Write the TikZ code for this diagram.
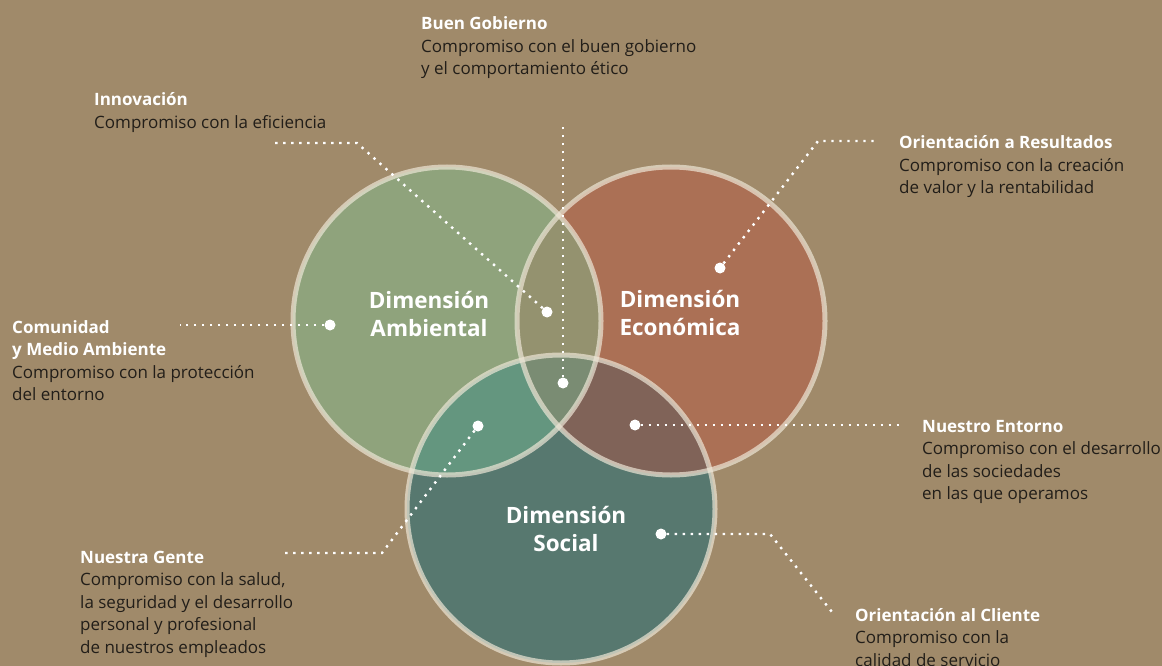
\documentclass[tikz,border=0pt]{standalone}
\usepackage{fontspec}
\setmainfont{Open Sans}
\usepackage{tikz}
\usetikzlibrary{positioning}

\definecolor{bgtan}{HTML}{A08A6A}
\definecolor{ambfill}{HTML}{8FA37C}
\definecolor{ecofill}{HTML}{AB7055}
\definecolor{socfill}{HTML}{57786F}
\definecolor{ambeco}{HTML}{94926F}
\definecolor{ambsoc}{HTML}{64967F}
\definecolor{ecosoc}{HTML}{806358}
\definecolor{allthree}{HTML}{7A8C73}
\definecolor{rimbeige}{HTML}{EDE6D6}
\definecolor{inkdark}{HTML}{221E19}

\newcommand{\ttl}[1]{\textcolor{white}{\bfseries #1}}
\newcommand{\blocktext}[1]{\begin{tabular}[t]{@{}l@{}}#1\end{tabular}}
\newcommand{\blockhead}[1]{\begin{tabular}[t]{@{}c@{}}#1\end{tabular}}

\begin{document}
\begin{tikzpicture}[x=1pt, y=-1pt,
  every dimension/.style={circle, minimum size=308pt, inner sep=0pt},
  rim/.style={draw=rimbeige, draw opacity=0.7, line width=5pt},
  pin/.style={circle, fill=white, minimum size=11pt, inner sep=0pt},
  leader/.style={white, line width=2.4pt, dash pattern=on 2.4pt off 5.6pt},
  caption/.style={anchor=base west, inner sep=0pt, text=inkdark,
    font=\fontsize{17}{22.5}\selectfont},
  heading/.style={anchor=base, inner sep=0pt, text=white,
    font=\bfseries\fontsize{22.5}{28.5}\selectfont}]

\fill[bgtan] (0,0) rectangle (1162,666);
\useasboundingbox (0,0) rectangle (1162,666);

\foreach \n/\x/\y in {amb/447/321, eco/671/321, soc/561/509}
  \node [every dimension/.try] (circle-\n) at (\x,\y) {};

\fill[ambfill] (circle-amb.center) circle (154);
\fill[ecofill] (circle-eco.center) circle (154);
\fill[socfill] (circle-soc.center) circle (154);

\begin{scope}
  \clip (circle-amb.center) circle (154);
  \fill[ambeco] (circle-eco.center) circle (154);
  \fill[ambsoc] (circle-soc.center) circle (154);
\end{scope}
\begin{scope}
  \clip (circle-eco.center) circle (154);
  \fill[ecosoc] (circle-soc.center) circle (154);
\end{scope}
\begin{scope}
  \clip (circle-amb.center) circle (154);
  \clip (circle-eco.center) circle (154);
  \fill[allthree] (circle-soc.center) circle (154);
\end{scope}

\foreach \n in {amb,eco,soc}
  \draw[rim] (circle-\n.center) circle (154);

\node [heading] (head-amb) at (429,308) {\blockhead{Dimensión\\Ambiental}};
\node [heading] (head-eco) at (680,307) {\blockhead{Dimensión\\Económica}};
\node [heading] (head-soc) at (566,523) {\blockhead{Dimensión\\Social}};

% pins
\foreach \n/\x/\y in {innov/547/312, gob/563/383, comu/330/325, result/720/268,
                      entorno/635/425, gente/478/426, cliente/661/534}
  \node [pin] (pin-\n) at (\x,\y) {};

% leader ends and bends
\coordinate (end-innov) at (275,143);
\coordinate (bend-innov) at (357,143);
\coordinate (end-gob) at (563,126);
\coordinate (end-comu) at (180,325);
\coordinate (bend-result) at (818,141);
\coordinate (end-result) at (876,141);
\coordinate (end-entorno) at (900,425);
\coordinate (bend-cliente) at (770,534);
\coordinate (end-cliente) at (832,612);
\coordinate (bend-gente) at (382,553);
\coordinate (end-gente) at (283,553);

\draw[leader] (pin-innov) -- (bend-innov) -- (end-innov);
\draw[leader] (pin-gob) -- (end-gob);
\draw[leader] (pin-comu) -- (end-comu);
\draw[leader] (pin-result) -- (bend-result) -- (end-result);
\draw[leader] (pin-entorno) -- (end-entorno);
\draw[leader] (pin-cliente) -- (bend-cliente) -- (end-cliente);
\draw[leader] (pin-gente) -- (bend-gente) -- (end-gente);

% captions
\node [caption] (text-gob) at (421,30)
  {\blocktext{\ttl{Buen Gobierno}\\Compromiso con el buen gobierno\\y el comportamiento ético}};
\node [caption] (text-innov) at (94,106)
  {\blocktext{\ttl{Innovación}\\Compromiso con la eficiencia}};
\node [caption] (text-result) at (899,149)
  {\blocktext{\ttl{Orientación a Resultados}\\Compromiso con la creación\\de valor y la rentabilidad}};
\node [caption] (text-comu) at (12,333)
  {\blocktext{\ttl{Comunidad}\\\ttl{y Medio Ambiente}\\Compromiso con la protección\\del entorno}};
\node [caption] (text-entorno) at (922,432)
  {\blocktext{\ttl{Nuestro Entorno}\\Compromiso con el desarrollo\\de las sociedades\\en las que operamos}};
\node [caption] (text-gente) at (80,563)
  {\blocktext{\ttl{Nuestra Gente}\\Compromiso con la salud,\\la seguridad y el desarrollo\\personal y profesional\\de nuestros empleados}};
\node [caption] (text-cliente) at (855,621)
  {\blocktext{\ttl{Orientación al Cliente}\\Compromiso con la\\calidad de servicio}};

\end{tikzpicture}
\end{document}
